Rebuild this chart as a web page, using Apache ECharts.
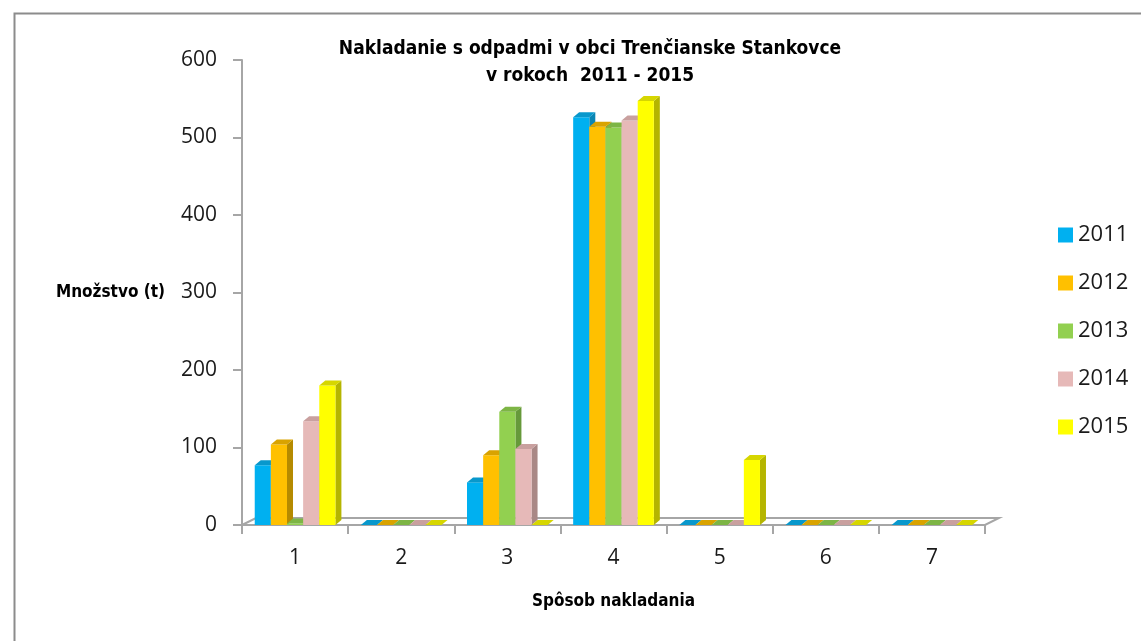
<!DOCTYPE html>
<html>
<head>
<meta charset="utf-8">
<script src="https://cdn.jsdelivr.net/npm/echarts@6/dist/echarts.min.js"></script>
<style>
html, body { margin: 0; padding: 0; background: #fff; }
#chart { width: 1141px; height: 641px; }
</style>
</head>
<body>
<div id="chart"></div>
<script>
// data
var categories = ['1', '2', '3', '4', '5', '6', '7']
var years = ['2011', '2012', '2013', '2014', '2015']
var v2011 = [77, 0, 55, 526, 0, 0, 0]
var v2012 = [104, 0, 90, 514, 0, 0, 0]
var v2013 = [2, 0, 146, 513, 0, 0, 0]
var v2014 = [134, 0, 98, 522, 0, 0, 0]
var v2015 = [180, 0, 0, 547, 84, 0, 0]
var yTicks = [0, 100, 200, 300, 400, 500, 600]

var values = [v2011, v2012, v2013, v2014, v2015]
var colors = ['#00b0f0', '#ffc000', '#92d050', '#e6b9b8', '#ffff00']
var sides = ['#0a86b4', '#b58a00', '#66993a', '#a98886', '#b5b500']
var tops = ['#0898cc', '#d9a300', '#7db545', '#c9a09f', '#d6d600']

var narrow = '"DejaVu Sans Condensed", "Liberation Sans", sans-serif'
var body = '"Open Sans", sans-serif'

var chart = echarts.init(document.getElementById('chart'))

var DX = 6, DY = 5

function makeRender(idx) {
    return function(params, api) {
        var cat = api.value(0)
        var val = api.value(1)
        var base = api.coord([cat, 0])
        var top = api.coord([cat, val])
        var bw = api.size([1, 0])[0] * 0.152
        var x0 = base[0] - 2.5 * bw + idx * bw
        var x1 = x0 + bw
        var y0 = base[1]
        var y1 = top[1]
        return {
            type: 'group',
            children: [
                {
                    type: 'polygon',
                    shape: { points: [[x1, y0], [x1 + DX, y0 - DY], [x1 + DX, y1 - DY], [x1, y1]] },
                    style: { fill: sides[idx] }
                },
                {
                    type: 'rect',
                    shape: { x: x0, y: y1, width: bw, height: y0 - y1 },
                    style: { fill: colors[idx] }
                },
                {
                    type: 'polygon',
                    shape: { points: [[x0, y1], [x0 + DX, y1 - DY], [x1 + DX, y1 - DY], [x1, y1]] },
                    style: { fill: tops[idx] }
                }
            ]
        }
    }
}

var series = years.map(function(y, i) {
    return {
        name: y,
        type: 'custom',
        renderItem: makeRender(i),
        itemStyle: { color: colors[i] },
        encode: { x: 0, y: 1 },
        data: values[i].map(function(v, j) { return [j, v] }),
        z: 3
    }
})

// floor of the 3d plot
series.unshift({
    type: 'custom',
    silent: true,
    renderItem: function(params, api) {
        if (params.dataIndex !== 0) return
        var a = api.coord([0, 0])
        var w = api.size([1, 0])[0]
        var xl = a[0] - w / 2
        var xr = xl + w * categories.length
        var y = a[1]
        return {
            type: 'polygon',
            shape: { points: [[xl, y], [xl + DX + 8, y - DY - 2], [xr + DX + 8, y - DY - 2], [xr, y]] },
            style: { fill: '#fff', stroke: '#a6a6a6', lineWidth: 2 }
        }
    },
    data: [[0, 0]],
    encode: { x: 0, y: 1 },
    z: 1
})

var option = {
    animation: false,
    backgroundColor: '#fff',
    title: {
        text: 'Nakladanie s odpadmi v obci Trenčianske Stankovce\nv rokoch  2011 - 2015',
        left: 585,
        top: 31,
        textAlign: 'center',
        textStyle: {
            fontFamily: narrow,
            fontWeight: 'bold',
            fontSize: 19,
            lineHeight: 27,
            color: '#000'
        }
    },
    legend: {
        orient: 'vertical',
        left: 1053,
        top: 219,
        icon: 'rect',
        itemWidth: 15,
        itemHeight: 15,
        itemGap: 26,
        data: years,
        textStyle: {
            fontFamily: body,
            fontSize: 22,
            color: '#1a1a1a'
        }
    },
    grid: {
        left: 242,
        right: 156,
        top: 60,
        bottom: 116
    },
    xAxis: {
        type: 'category',
        data: categories,
        name: 'Spôsob nakladania',
        nameLocation: 'middle',
        nameGap: 68,
        nameTextStyle: {
            fontFamily: narrow,
            fontWeight: 'bold',
            fontSize: 17,
            color: '#000'
        },
        axisLine: { lineStyle: { color: '#a6a6a6', width: 2 } },
        axisTick: { show: true, length: 9, lineStyle: { color: '#a6a6a6', width: 2 } },
        axisLabel: {
            fontFamily: body,
            fontSize: 21,
            color: '#1a1a1a',
            margin: 23
        }
    },
    yAxis: {
        type: 'value',
        min: yTicks[0],
        max: yTicks[yTicks.length - 1],
        interval: 100,
        name: 'Množstvo (t)',
        nameLocation: 'middle',
        nameRotate: 0,
        nameGap: 77,
        nameTextStyle: {
            fontFamily: narrow,
            fontWeight: 'bold',
            fontSize: 17,
            color: '#000'
        },
        splitLine: { show: false },
        axisLine: { show: true, lineStyle: { color: '#a6a6a6', width: 2 } },
        axisTick: { show: true, length: 9, lineStyle: { color: '#a6a6a6', width: 2 } },
        axisLabel: {
            fontFamily: body,
            fontSize: 21,
            color: '#1a1a1a',
            margin: 25
        }
    },
    graphic: [
        {
            type: 'rect',
            left: 12,
            top: 11,
            shape: { width: 1200, height: 700 },
            style: { fill: 'none', stroke: '#8c8c8c', lineWidth: 2 },
            silent: true,
            z: 0
        }
    ],
    series: series
}

chart.setOption(option)
</script>
</body>
</html>
